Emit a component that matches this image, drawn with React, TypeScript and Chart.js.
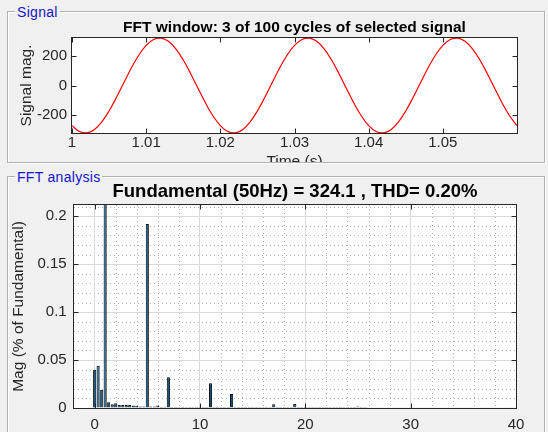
import React, { useEffect, useRef } from 'react';
import { Chart, registerables } from 'chart.js';

Chart.register(...registerables);

// ---------- Signal window (time in s, signal magnitude) ----------
const TIMES = [
  1, 1.001, 1.002, 1.003, 1.004, 1.005, 1.006, 1.007, 1.008, 1.009,
  1.01, 1.011, 1.012, 1.013, 1.014, 1.015, 1.016, 1.017, 1.018, 1.019,
  1.02, 1.021, 1.022, 1.023, 1.024, 1.025, 1.026, 1.027, 1.028, 1.029,
  1.03, 1.031, 1.032, 1.033, 1.034, 1.035, 1.036, 1.037, 1.038, 1.039,
  1.04, 1.041, 1.042, 1.043, 1.044, 1.045, 1.046, 1.047, 1.048, 1.049,
  1.05, 1.051, 1.052, 1.053, 1.054, 1.055, 1.056, 1.057, 1.058, 1.059,
  1.06,
];
const SIGNAL = [
  -273.6, -313.9, -323.5, -301.3, -249.7, -173.7, -80.6, 20.4, 119.3, 206.6,
  273.6, 313.9, 323.5, 301.3, 249.7, 173.7, 80.6, -20.4, -119.3, -206.6,
  -273.6, -313.9, -323.5, -301.3, -249.7, -173.7, -80.6, 20.4, 119.3, 206.6,
  273.6, 313.9, 323.5, 301.3, 249.7, 173.7, 80.6, -20.4, -119.3, -206.6,
  -273.6, -313.9, -323.5, -301.3, -249.7, -173.7, -80.6, 20.4, 119.3, 206.6,
  273.6, 313.9, 323.5, 301.3, 249.7, 173.7, 80.6, -20.4, -119.3, -206.6,
  -273.6,
];
const TIME_TICKS = [1, 1.01, 1.02, 1.03, 1.04, 1.05];
const SIGNAL_TICKS = [-200, 0, 200];
const SIGNAL_RANGE = [-324.1, 324.1];
const TIME_RANGE = [1, 1.06];

// ---------- FFT (harmonic order, magnitude % of fundamental) ----------
const ORDERS = [
  0, 0.33, 0.67, 1, 1.33, 1.67, 2, 2.33, 2.67, 3, 3.33, 3.67, 4, 4.33, 4.67,
  5, 5.33, 5.67, 6, 6.33, 6.67, 7, 7.33, 7.67, 8, 8.33, 8.67, 9, 9.33, 9.67,
  10, 10.33, 10.67, 11, 11.33, 11.67, 12, 12.33, 12.67, 13, 13.33, 13.67,
  14, 14.33, 14.67, 15, 15.33, 15.67, 16, 16.33, 16.67, 17, 17.33, 17.67,
  18, 18.33, 18.67, 19, 19.33, 19.67, 20, 20.33, 20.67, 21, 21.33, 21.67,
  22, 22.33, 22.67, 23, 23.33, 23.67, 24, 24.33, 24.67, 25, 25.33, 25.67,
  26, 26.33, 26.67, 27, 27.33, 27.67, 28, 28.33, 28.67, 29, 29.33, 29.67,
  30, 30.33, 30.67, 31, 31.33, 31.67, 32, 32.33, 32.67, 33, 33.33, 33.67,
  34, 34.33, 34.67, 35, 35.33, 35.67, 36, 36.33, 36.67, 37, 37.33, 37.67,
  38, 38.33, 38.67, 39, 39.33, 39.67, 40,
];
const MAGS = [
  0.040, 0.044, 0.019,
  100, 0.006, 0.004,
  0.005, 0.003, 0.003,
  0.003, 0.003, 0.0025,
  0.002, 0.0015, 0.0015,
  0.192, 0.0015, 0.0015,
  0.0025, 0.0012, 0.0012,
  0.032, 0.0011, 0.0011,
  0.0011, 0.0011, 0.0011,
  0.0011, 0.001, 0.001,
  0.001, 0.001, 0.001,
  0.0257, 0.001, 0.001,
  0.001, 0.001, 0.001,
  0.0147, 0.001, 0.001,
  0.001, 0.001, 0.001,
  0.001, 0.001, 0.001,
  0.001, 0.001, 0.001,
  0.0038, 0.001, 0.001,
  0.001, 0.001, 0.001,
  0.0042, 0.001, 0.001,
  0.001, 0.001, 0.001,
  0.001, 0.001, 0.001,
  0.001, 0.001, 0.001,
  0.001, 0.001, 0.001,
  0.001, 0.001, 0.001,
  0.0016, 0.001, 0.001,
  0.0009, 0.0009, 0.0009,
  0.0009, 0.0009, 0.0009,
  0.0009, 0.0009, 0.0009,
  0.0009, 0.0009, 0.0009,
  0.0009, 0.0009, 0.0009,
  0.0009, 0.0009, 0.0009,
  0.0009, 0.0009, 0.0009,
  0.0009, 0.0009, 0.0009,
  0.0009, 0.0009, 0.0009,
  0.0009, 0.0009, 0.0009,
  0.0009, 0.0009, 0.0009,
  0.0009, 0.0009, 0.0009,
  0.0009, 0.0009, 0.0009,
  0.0009, 0.0009, 0.0009,
  0.0009,
];
const ORDER_TICKS = [0, 10, 20, 30, 40];
const ORDER_MINOR = [2, 4, 6, 8, 12, 14, 16, 18, 22, 24, 26, 28, 32, 34, 36, 38];
const MAG_TICKS = [0, 0.05, 0.1, 0.15, 0.2];
const MAG_MINOR = [0.01, 0.02, 0.03, 0.04, 0.06, 0.07, 0.08, 0.09, 0.11, 0.12, 0.13, 0.14, 0.16, 0.17, 0.18, 0.19, 0.21];
const ORDER_RANGE = [-1.96, 40];
const MAG_RANGE = [0, 0.2118];

const FONT = "'Liberation Sans', Arial, Helvetica, sans-serif";
const AXIS = '#262626';

const matlabAxes = {
  id: 'matlabAxes',
  beforeDraw(chart: any, _a: any, opts: any) {
    const { ctx, chartArea: a, scales } = chart;
    ctx.save();
    ctx.fillStyle = '#ffffff';
    ctx.fillRect(a.left, a.top, a.right - a.left, a.bottom - a.top);
    const mx: number[] = opts.minorX || [];
    const my: number[] = opts.minorY || [];
    if (mx.length || my.length) {
      ctx.strokeStyle = '#b4b4b4';
      ctx.lineWidth = 1;
      ctx.setLineDash([1, 3]);
      ctx.beginPath();
      mx.forEach((v) => {
        const px = Math.round(scales.x.getPixelForValue(v)) + 0.5;
        ctx.moveTo(px, a.top);
        ctx.lineTo(px, a.bottom);
      });
      my.forEach((v) => {
        const py = Math.round(scales.y.getPixelForValue(v)) + 0.5;
        ctx.moveTo(a.left, py);
        ctx.lineTo(a.right, py);
      });
      ctx.stroke();
    }
    ctx.restore();
  },
  afterDatasetsDraw(chart: any) {
    const { ctx, chartArea: a, scales } = chart;
    const L = 4.5;
    const l = Math.round(a.left), r = Math.round(a.right), t = Math.round(a.top), b = Math.round(a.bottom);
    ctx.save();
    ctx.strokeStyle = AXIS;
    ctx.lineWidth = 1;
    ctx.setLineDash([]);
    ctx.beginPath();
    scales.x.ticks.forEach((tk: any) => {
      const px = Math.round(scales.x.getPixelForValue(tk.value)) + 0.5;
      ctx.moveTo(px, b);
      ctx.lineTo(px, b - L);
      ctx.moveTo(px, t);
      ctx.lineTo(px, t + L);
    });
    scales.y.ticks.forEach((tk: any) => {
      const py = Math.round(scales.y.getPixelForValue(tk.value)) + 0.5;
      ctx.moveTo(l, py);
      ctx.lineTo(l + L, py);
      ctx.moveTo(r, py);
      ctx.lineTo(r - L, py);
    });
    ctx.stroke();
    ctx.strokeRect(l - 0.5, t - 0.5, r - l + 1, b - t + 1);
    ctx.restore();
  },
};

const tickFont = { family: FONT, size: 15 };
const labelFont = { family: FONT, size: 15.5 };

function setTicks(values: number[]) {
  return (s: any) => {
    s.ticks = values.map((v) => ({ value: v }));
  };
}

function topConfig(): any {
  return {
    type: 'line',
    data: {
      datasets: [
        {
          data: TIMES.map((t, i) => ({ x: t, y: SIGNAL[i] })),
          borderColor: '#ff0000',
          borderWidth: 1.2,
          pointRadius: 0,
          tension: 0.4,
          fill: false,
        },
      ],
    },
    options: {
      animation: false,
      responsive: false,
      maintainAspectRatio: false,
      events: [],
      layout: { padding: { left: 0, right: 31, top: 0, bottom: 0 } },
      plugins: {
        legend: { display: false },
        tooltip: { enabled: false },
        title: {
          display: true,
          fullSize: false,
          text: 'FFT window: 3 of 100 cycles of selected signal',
          color: '#000000',
          font: { family: FONT, size: 15.5, weight: 'bold', lineHeight: 1.1 },
          padding: { top: 19.5, bottom: 1.45 },
        },
        matlabAxes: {},
      },
      scales: {
        x: {
          type: 'linear',
          min: TIME_RANGE[0],
          max: TIME_RANGE[1],
          afterBuildTicks: setTicks(TIME_TICKS),
          afterFit: (s: any) => { s.height = 38; },
          grid: { display: false, drawTicks: false },
          border: { display: false },
          ticks: { color: AXIS, font: tickFont, padding: 1.3, maxRotation: 0, autoSkip: false, callback: (v: any) => String(v) },
          title: { display: true, text: 'Time (s)', color: AXIS, font: labelFont, padding: { top: 0, bottom: 0 } },
        },
        y: {
          type: 'linear',
          min: SIGNAL_RANGE[0],
          max: SIGNAL_RANGE[1],
          afterBuildTicks: setTicks(SIGNAL_TICKS),
          afterFit: (s: any) => { s.width = 72; },
          grid: { display: false, drawTicks: false },
          border: { display: false },
          ticks: { color: AXIS, font: tickFont, padding: 5, autoSkip: false, callback: (v: any) => String(v) },
          title: { display: true, text: 'Signal mag.', color: AXIS, font: labelFont, padding: { top: 17.7, bottom: 0 } },
        },
      },
    },
    plugins: [matlabAxes],
  };
}

function bottomConfig(): any {
  return {
    type: 'bar',
    data: {
      datasets: [
        {
          data: ORDERS.map((o, i) => ({ x: o, y: MAGS[i] })),
          backgroundColor: '#0a4f80',
          borderColor: '#0a0f14',
          borderWidth: 1,
          categoryPercentage: 1,
          barPercentage: 0.9,
          clip: 0,
        },
      ],
    },
    options: {
      animation: false,
      responsive: false,
      maintainAspectRatio: false,
      events: [],
      layout: { padding: { left: 0, right: 32, top: 0, bottom: 0 } },
      plugins: {
        legend: { display: false },
        tooltip: { enabled: false },
        title: {
          display: true,
          fullSize: false,
          text: 'Fundamental (50Hz) = 324.1 , THD= 0.20%',
          color: '#000000',
          font: { family: FONT, size: 18.5, weight: 'bold', lineHeight: 1.1 },
          padding: { top: 6.1, bottom: 2.55 },
        },
        matlabAxes: { minorX: ORDER_MINOR, minorY: MAG_MINOR },
      },
      scales: {
        x: {
          type: 'linear',
          offset: false,
          min: ORDER_RANGE[0],
          max: ORDER_RANGE[1],
          afterBuildTicks: setTicks(ORDER_TICKS),
          afterFit: (s: any) => { s.height = 30; },
          grid: { display: true, color: '#dadada', lineWidth: 1, drawTicks: false, offset: false },
          border: { display: false },
          ticks: { color: AXIS, font: tickFont, padding: 7.5, maxRotation: 0, autoSkip: false, callback: (v: any) => String(v) },
        },
        y: {
          type: 'linear',
          min: MAG_RANGE[0],
          max: MAG_RANGE[1],
          afterBuildTicks: setTicks(MAG_TICKS),
          afterFit: (s: any) => { s.width = 74; },
          grid: { display: true, color: '#dadada', lineWidth: 1, drawTicks: false },
          border: { display: false },
          ticks: { color: AXIS, font: tickFont, padding: 7.3, autoSkip: false, callback: (v: any) => String(v) },
          title: { display: true, text: 'Mag (% of Fundamental)', color: AXIS, font: labelFont, padding: { top: 9.1, bottom: 0 } },
        },
      },
    },
    plugins: [matlabAxes],
  };
}

const panelTitle: React.CSSProperties = {
  position: 'absolute',
  left: 15,
  padding: '0 2px',
  background: '#f0f0f0',
  color: '#1414c8',
  fontFamily: FONT,
  fontSize: 14,
  lineHeight: '18px',
  letterSpacing: '0.3px',
  whiteSpace: 'nowrap',
};

const panelBox: React.CSSProperties = {
  position: 'absolute',
  left: 7,
  width: 538,
  boxSizing: 'border-box',
  border: '1px solid #b0b0b0',
  boxShadow: 'inset 1px 1px 0 #ffffff, 1px 1px 0 #ffffff',
};

export default function App() {
  const topRef = useRef<HTMLCanvasElement>(null);
  const botRef = useRef<HTMLCanvasElement>(null);

  useEffect(() => {
    const c1 = new Chart(topRef.current as HTMLCanvasElement, topConfig());
    const c2 = new Chart(botRef.current as HTMLCanvasElement, bottomConfig());
    return () => {
      c1.destroy();
      c2.destroy();
    };
  }, []);

  return (
    <div
      style={{
        position: 'fixed',
        left: 0,
        top: 0,
        width: 548,
        height: 432,
        background: '#f0f0f0',
        overflow: 'hidden',
      }}
    >
      <div style={{ ...panelBox, top: 11, height: 152 }} />
      <div style={{ ...panelBox, top: 176, height: 300 }} />
      <div style={{ ...panelTitle, top: 3 }}>Signal</div>
      <div style={{ ...panelTitle, top: 168 }}>FFT analysis</div>
      <div style={{ position: 'absolute', left: 0, top: 0, width: 548, height: 162, overflow: 'hidden' }}>
        <canvas ref={topRef} width={548} height={171} style={{ display: 'block' }} />
      </div>
      <div style={{ position: 'absolute', left: 0, top: 176, width: 548, height: 256, overflow: 'hidden' }}>
        <canvas ref={botRef} width={548} height={262} style={{ display: 'block' }} />
      </div>
    </div>
  );
}
